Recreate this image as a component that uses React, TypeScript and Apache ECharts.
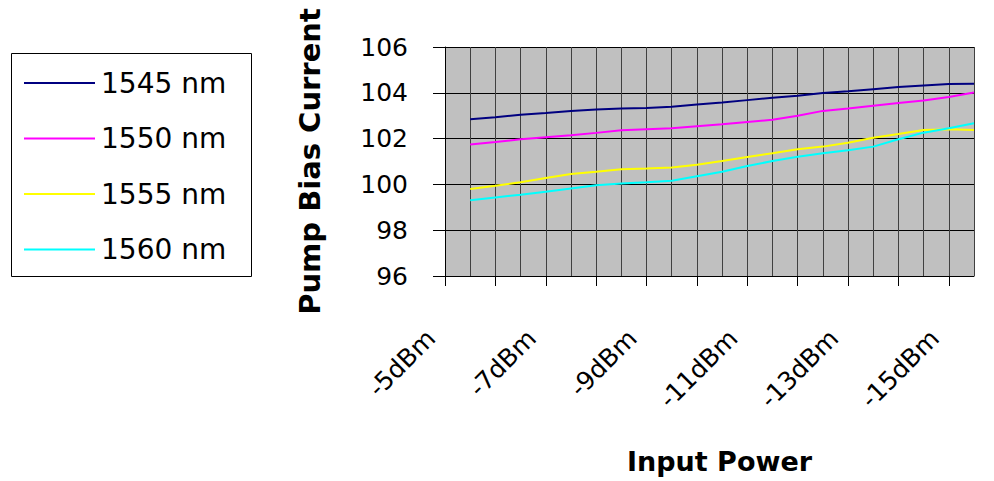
import React, { useEffect, useRef } from "react";
import * as echarts from "echarts";

const categories: string[] = [
  "-5dBm", "-5.5dBm", "-6dBm", "-6.5dBm", "-7dBm", "-7.5dBm", "-8dBm", "-8.5dBm",
  "-9dBm", "-9.5dBm", "-10dBm", "-10.5dBm", "-11dBm", "-11.5dBm", "-12dBm", "-12.5dBm",
  "-13dBm", "-13.5dBm", "-14dBm", "-14.5dBm", "-15dBm", "-15.5dBm",
];

const s1545: (number | null)[] = [
  null, 102.85, 102.93, 103.04, 103.12, 103.21, 103.27, 103.31, 103.34, 103.39, 103.49,
  103.58, 103.68, 103.78, 103.87, 103.99, 104.07, 104.16, 104.25, 104.32, 104.38, 104.39,
];
const s1550: (number | null)[] = [
  null, 101.74, 101.85, 101.97, 102.06, 102.15, 102.25, 102.36, 102.41, 102.45, 102.54,
  102.63, 102.73, 102.82, 103.0, 103.21, 103.31, 103.43, 103.55, 103.66, 103.82, 104.01,
];
const s1555: (number | null)[] = [
  null, 99.8, 99.94, 100.09, 100.28, 100.45, 100.55, 100.66, 100.69, 100.74, 100.86,
  101.02, 101.2, 101.36, 101.53, 101.65, 101.82, 102.04, 102.2, 102.38, 102.41, 102.38,
];
const s1560: (number | null)[] = [
  null, 99.31, 99.43, 99.55, 99.68, 99.82, 99.96, 100.04, 100.09, 100.16, 100.36,
  100.55, 100.8, 101.02, 101.21, 101.36, 101.49, 101.65, 101.97, 102.26, 102.45, 102.67,
];

const seriesNames = ["1545 nm", "1550 nm", "1555 nm", "1560 nm"];
const seriesColors = ["#000080", "#FF00FF", "#FFFF00", "#00FFFF"];
const seriesData = [s1545, s1550, s1555, s1560];

const FONT = "'DejaVu Sans', sans-serif";

export default function App() {
  const ref = useRef<HTMLDivElement>(null);
  useEffect(() => {
    if (!ref.current) return;
    const chart = echarts.init(ref.current, undefined, { renderer: "svg" });
    chart.setOption({
      animation: false,
      backgroundColor: "#ffffff",
      grid: { left: 445, right: 20, top: 47, bottom: 205, show: true, backgroundColor: "#C0C0C0", borderWidth: 0 },
      legend: {
        orient: "vertical",
        left: 24,
        top: 69,
        padding: 0,
        itemWidth: 71,
        itemHeight: 2,
        itemGap: 27.5,
        icon: "rect",
        textStyle: { fontFamily: FONT, fontSize: 28, color: "#000", lineHeight: 28, padding: [0, 0, 0, 1] },
        data: seriesNames,
      },
      graphic: [
        {
          type: "rect",
          shape: { x: 11.5, y: 53.5, width: 240, height: 223 },
          style: { fill: "none", stroke: "#000", lineWidth: 1 },
          z: -1,
        },
      ],
      xAxis: {
        type: "category",
        data: categories,
        boundaryGap: false,
        name: "Input Power",
        nameLocation: "middle",
        nameGap: 172,
        nameTextStyle: { fontFamily: FONT, fontSize: 27, fontWeight: "bold", color: "#000", padding: [0, 0, 0, 20] },
        axisLine: { show: true, lineStyle: { color: "#000", width: 1 } },
        axisTick: { show: true, interval: 1, length: 10, inside: false, lineStyle: { color: "#000" } },
        axisLabel: {
          interval: 3,
          rotate: 45,
          margin: 44,
          padding: [0, 20, 0, 0],
          fontFamily: FONT,
          fontSize: 25,
          color: "#000",
        },
        splitLine: { show: true, interval: 0, lineStyle: { color: "#404040", width: 1 } },
      },
      yAxis: {
        type: "value",
        min: 96,
        max: 106,
        interval: 2,
        name: "Pump Bias Current",
        nameLocation: "middle",
        nameGap: 121,
        nameTextStyle: { fontFamily: FONT, fontSize: 29, fontWeight: "bold", color: "#000", padding: [0, 0, 0, 0] },
        axisLine: { show: true, lineStyle: { color: "#000", width: 1 } },
        axisTick: { show: true, length: 12, inside: false, lineStyle: { color: "#000" } },
        axisLabel: { margin: 37, fontFamily: FONT, fontSize: 25, color: "#000" },
        splitLine: { show: true, lineStyle: { color: "#000", width: 1 } },
      },
      series: seriesNames.map((n, i) => ({
        name: n,
        type: "line",
        data: seriesData[i],
        showSymbol: false,
        symbol: "none",
        color: seriesColors[i],
        lineStyle: { color: seriesColors[i], width: 2 },
      })),
    });
    return () => chart.dispose();
  }, []);
  return <div ref={ref} style={{ width: 994, height: 481, position: "fixed", left: 0, top: 0 }} />;
}
